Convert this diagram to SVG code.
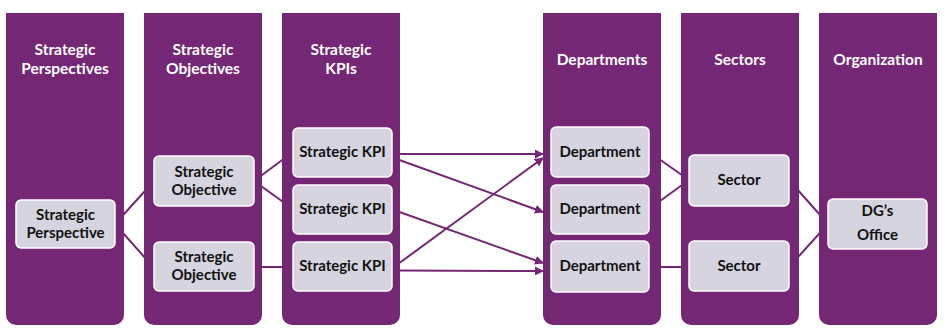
<svg xmlns="http://www.w3.org/2000/svg" width="948" height="332" viewBox="0 0 948 332">
<defs>
<style>
.col{fill:#742774;}
.box{fill:#D6D4DE;stroke:#FFFFFF;stroke-width:1.5;}
.hdr{font-family:Lato,"Liberation Sans",sans-serif;font-weight:bold;font-size:15.5px;fill:#FFFFFF;text-anchor:middle;}
.lbl{font-family:Lato,"Liberation Sans",sans-serif;font-weight:bold;font-size:15px;fill:#111111;text-anchor:middle;}
.cn{stroke:#742774;stroke-width:2;fill:none;}
.ar{stroke:#742774;stroke-width:2;fill:none;marker-end:url(#ah);}
</style>
<marker id="ah" viewBox="0 0 10 10" refX="9" refY="5" markerWidth="4.5" markerHeight="4.5" orient="auto" markerUnits="strokeWidth">
<path d="M0,0 L10,5 L0,10 Z" fill="#742774"/>
</marker>
</defs>
<rect width="948" height="332" fill="#FFFFFF"/>
<g id="connectors">
<line class="cn" x1="115" y1="224" x2="154" y2="181"/>
<line class="cn" x1="115" y1="224" x2="154" y2="268"/>
<line class="cn" x1="254" y1="181" x2="293" y2="152"/>
<line class="cn" x1="254" y1="181" x2="293" y2="209"/>
<line class="cn" x1="254" y1="267" x2="293" y2="267"/>
<line class="ar" x1="398" y1="154" x2="543" y2="154"/>
<line class="ar" x1="398" y1="159.5" x2="543" y2="212"/>
<line class="ar" x1="398" y1="211.5" x2="543" y2="263"/>
<line class="ar" x1="398" y1="264" x2="543" y2="158"/>
<line class="ar" x1="398" y1="270.5" x2="543" y2="271"/>
<line class="cn" x1="649" y1="152" x2="689" y2="180"/>
<line class="cn" x1="649" y1="209" x2="689" y2="180"/>
<line class="cn" x1="649" y1="267" x2="689" y2="267"/>
<line class="cn" x1="789" y1="180" x2="828" y2="224"/>
<line class="cn" x1="789" y1="267" x2="828" y2="224"/>
</g>
<g id="col-perspectives">
<path class="col" d="M6,13 H124 V315 A10,10 0 0 1 114,325 H16 A10,10 0 0 1 6,315 Z"/>
<text class="hdr" x="65" y="55">Strategic</text>
<text class="hdr" x="65" y="74">Perspectives</text>
</g>
<g id="col-objectives">
<path class="col" d="M144,13 H262 V315 A10,10 0 0 1 252,325 H154 A10,10 0 0 1 144,315 Z"/>
<text class="hdr" x="203" y="55">Strategic</text>
<text class="hdr" x="203" y="74">Objectives</text>
</g>
<g id="col-kpis">
<path class="col" d="M282,13 H400 V315 A10,10 0 0 1 390,325 H292 A10,10 0 0 1 282,315 Z"/>
<text class="hdr" x="341" y="55">Strategic</text>
<text class="hdr" x="341" y="74">KPIs</text>
</g>
<g id="col-departments">
<path class="col" d="M543,13 H661 V315 A10,10 0 0 1 651,325 H553 A10,10 0 0 1 543,315 Z"/>
<text class="hdr" x="602" y="65">Departments</text>
</g>
<g id="col-sectors">
<path class="col" d="M681,13 H799 V315 A10,10 0 0 1 789,325 H691 A10,10 0 0 1 681,315 Z"/>
<text class="hdr" x="740" y="65">Sectors</text>
</g>
<g id="col-organization">
<path class="col" d="M819,13 H937 V315 A10,10 0 0 1 927,325 H829 A10,10 0 0 1 819,315 Z"/>
<text class="hdr" x="878" y="65">Organization</text>
</g>
<g id="node-perspective">
<rect class="box" x="16" y="200" width="99" height="48" rx="5"/>
<text class="lbl" x="65.5" y="220">Strategic</text>
<text class="lbl" x="65.5" y="238">Perspective</text>
</g>
<g id="node-objective-1">
<rect class="box" x="154" y="156" width="100" height="50" rx="5"/>
<text class="lbl" x="204" y="177">Strategic</text>
<text class="lbl" x="204" y="195">Objective</text>
</g>
<g id="node-objective-2">
<rect class="box" x="154" y="242" width="100" height="49" rx="5"/>
<text class="lbl" x="204" y="262">Strategic</text>
<text class="lbl" x="204" y="280">Objective</text>
</g>
<g id="node-kpi-1">
<rect class="box" x="293" y="128" width="99" height="49" rx="5"/>
<text class="lbl" x="342.5" y="157">Strategic KPI</text>
</g>
<g id="node-kpi-2">
<rect class="box" x="293" y="185" width="99" height="49" rx="5"/>
<text class="lbl" x="342.5" y="214">Strategic KPI</text>
</g>
<g id="node-kpi-3">
<rect class="box" x="293" y="242" width="99" height="49" rx="5"/>
<text class="lbl" x="342.5" y="271">Strategic KPI</text>
</g>
<g id="node-dept-1">
<rect class="box" x="551" y="127" width="98" height="50" rx="5"/>
<text class="lbl" x="600" y="157">Department</text>
</g>
<g id="node-dept-2">
<rect class="box" x="551" y="185" width="98" height="49" rx="5"/>
<text class="lbl" x="600" y="214">Department</text>
</g>
<g id="node-dept-3">
<rect class="box" x="551" y="241" width="98" height="51" rx="5"/>
<text class="lbl" x="600" y="271">Department</text>
</g>
<g id="node-sector-1">
<rect class="box" x="689" y="155" width="100" height="51" rx="5"/>
<text class="lbl" x="739" y="185">Sector</text>
</g>
<g id="node-sector-2">
<rect class="box" x="689" y="241" width="100" height="50" rx="5"/>
<text class="lbl" x="739" y="271">Sector</text>
</g>
<g id="node-dg">
<rect class="box" x="828" y="199" width="99" height="50" rx="5"/>
<text class="lbl" x="877.5" y="216">DG’s</text>
<text class="lbl" x="877.5" y="240">Office</text>
</g>
</svg>
